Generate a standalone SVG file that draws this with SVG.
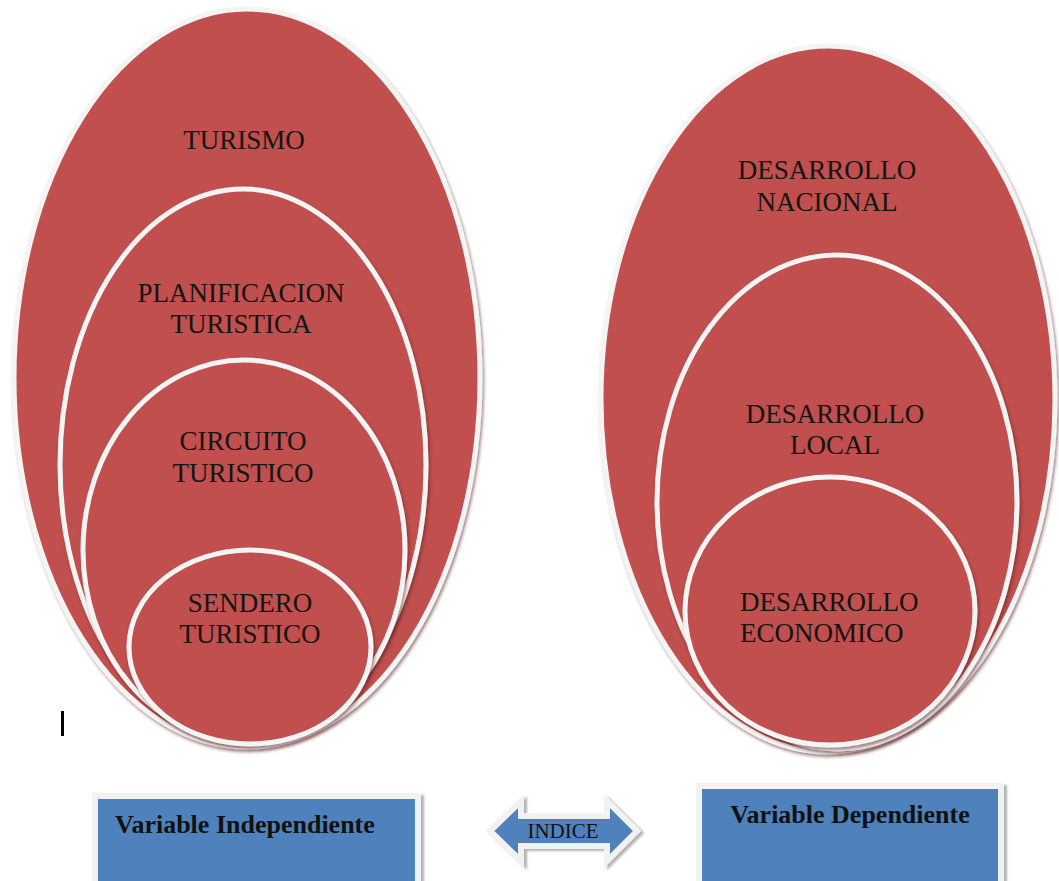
<svg xmlns="http://www.w3.org/2000/svg" width="1059" height="881" viewBox="0 0 1059 881">
<style>
.ring{fill:#C0504D;stroke:#F4F4F4;stroke-width:5;filter:url(#sh)}
.lbl{font-family:"Liberation Serif","Times New Roman",serif;font-size:27px;fill:#141414;text-anchor:middle}
.vb{font-family:"Liberation Serif","Times New Roman",serif;font-size:26px;font-weight:bold;fill:#111}
.idx{font-family:"Liberation Serif","Times New Roman",serif;font-size:21px;fill:#111;text-anchor:middle}
.box{fill:#4F81BD;stroke:#F2F2F2;stroke-width:6;filter:url(#bsh)}
</style>
<defs>
<filter id="sh" x="-10%" y="-10%" width="120%" height="120%">
<feDropShadow dx="1.5" dy="2.5" stdDeviation="1.5" flood-color="#5a2020" flood-opacity="0.55"/>
</filter>
<filter id="bsh" x="-10%" y="-10%" width="120%" height="130%">
<feDropShadow dx="3" dy="2" stdDeviation="1.2" flood-color="#808080" flood-opacity="0.6"/>
</filter>
</defs>
<rect width="1059" height="881" fill="#FFFFFF"/>

<g id="turismo">
<ellipse class="ring" cx="247" cy="378" rx="233" ry="369"/>
<text class="lbl" x="244" y="149">TURISMO</text>
</g>
<g id="planificacion-turistica">
<ellipse class="ring" cx="243" cy="465" rx="183" ry="276"/>
<text class="lbl" x="241" y="302">PLANIFICACION</text>
<text class="lbl" x="241" y="333">TURISTICA</text>
</g>
<g id="circuito-turistico">
<ellipse class="ring" cx="244" cy="550" rx="161" ry="190"/>
<text class="lbl" x="243" y="450">CIRCUITO</text>
<text class="lbl" x="243" y="482">TURISTICO</text>
</g>
<g id="sendero-turistico">
<ellipse class="ring" cx="250" cy="647" rx="121" ry="97"/>
<text class="lbl" x="250" y="612">SENDERO</text>
<text class="lbl" x="250" y="643">TURISTICO</text>
</g>

<g id="desarrollo-nacional">
<ellipse class="ring" cx="828" cy="399" rx="227" ry="353"/>
<text class="lbl" x="827" y="179">DESARROLLO</text>
<text class="lbl" x="827" y="211">NACIONAL</text>
</g>
<g id="desarrollo-local">
<ellipse class="ring" cx="837" cy="502" rx="180" ry="247"/>
<text class="lbl" x="835" y="423">DESARROLLO</text>
<text class="lbl" x="835" y="454">LOCAL</text>
</g>
<g id="desarrollo-economico">
<ellipse class="ring" cx="830" cy="611" rx="145" ry="134"/>
<text class="lbl" x="740" y="611" style="text-anchor:start">DESARROLLO</text>
<text class="lbl" x="740" y="642" style="text-anchor:start">ECONOMICO</text>
</g>

<rect x="61" y="711" width="3" height="25" fill="#000"/>

<g id="variable-independiente">
<rect class="box" x="95" y="796" width="323" height="100"/>
<text class="vb" x="115" y="833">Variable Independiente</text>
</g>
<g id="variable-dependiente">
<rect class="box" x="699" y="786" width="302" height="110"/>
<text class="vb" x="850" y="823" style="text-anchor:middle">Variable Dependiente</text>
</g>

<g id="connectors">
<path d="M490,831 L521,801 L521,816 L607,816 L607,801 L637,831 L607,861 L607,846 L521,846 L521,861 Z" fill="#4F81BD" stroke="#F2F2F2" stroke-width="6" stroke-linejoin="miter" filter="url(#bsh)"/>
<text class="idx" x="563" y="838">INDICE</text>
</g>
</svg>
